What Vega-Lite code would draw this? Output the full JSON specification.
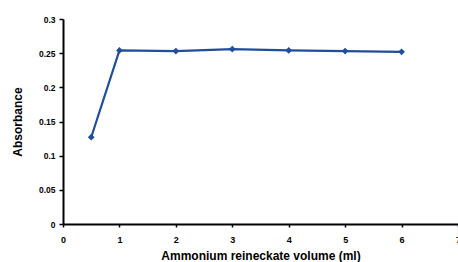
{
  "$schema": "https://vega.github.io/schema/vega-lite/v6.json",
  "autosize": "none",
  "width": 395,
  "height": 205,
  "padding": {"left": 63, "top": 19, "right": 0, "bottom": 38},
  "background": "white",
  "config": {"view": {"stroke": null}},
  "data": {"values": [
    {"volume": 0.5, "absorbance": 0.127},
    {"volume": 1, "absorbance": 0.254},
    {"volume": 2, "absorbance": 0.253},
    {"volume": 3, "absorbance": 0.256},
    {"volume": 4, "absorbance": 0.254},
    {"volume": 5, "absorbance": 0.253},
    {"volume": 6, "absorbance": 0.252}
  ]},
  "mark": {"type": "line", "color": "#1f4e9c", "strokeWidth": 2.2, "point": {"shape": "diamond", "size": 45, "filled": true, "color": "#1f4e9c"}},
  "encoding": {
    "x": {"field": "volume", "type": "quantitative", "scale": {"domain": [0, 7], "nice": false},
      "axis": {"title": "Ammonium reineckate volume (ml)", "values": [0,1,2,3,4,5,6,7], "grid": false, "domainColor": "black", "domainWidth": 2, "tickColor": "black", "tickSize": 3, "tickWidth": 1.5, "labelFont": "Liberation Sans", "labelFontSize": 9, "labelFontWeight": "bold", "labelColor": "black", "labelPadding": 8, "titleFont": "Liberation Sans", "titleFontSize": 12, "titleFontWeight": "bold", "titleColor": "black", "titlePadding": 6, "labelFlush": false}},
    "y": {"field": "absorbance", "type": "quantitative", "scale": {"domain": [0, 0.3], "nice": false},
      "axis": {"title": "Absorbance", "values": [0,0.05,0.1,0.15,0.2,0.25,0.3], "format": "~g", "grid": false, "domainColor": "black", "domainWidth": 2, "tickColor": "black", "tickSize": 4, "tickWidth": 1.5, "labelFont": "Liberation Sans", "labelFontSize": 8.5, "labelFontWeight": "bold", "labelColor": "black", "labelPadding": 4, "titleFont": "Liberation Sans", "titleFontSize": 12, "titleFontWeight": "bold", "titleColor": "black", "titlePadding": 14}}
  }
}
